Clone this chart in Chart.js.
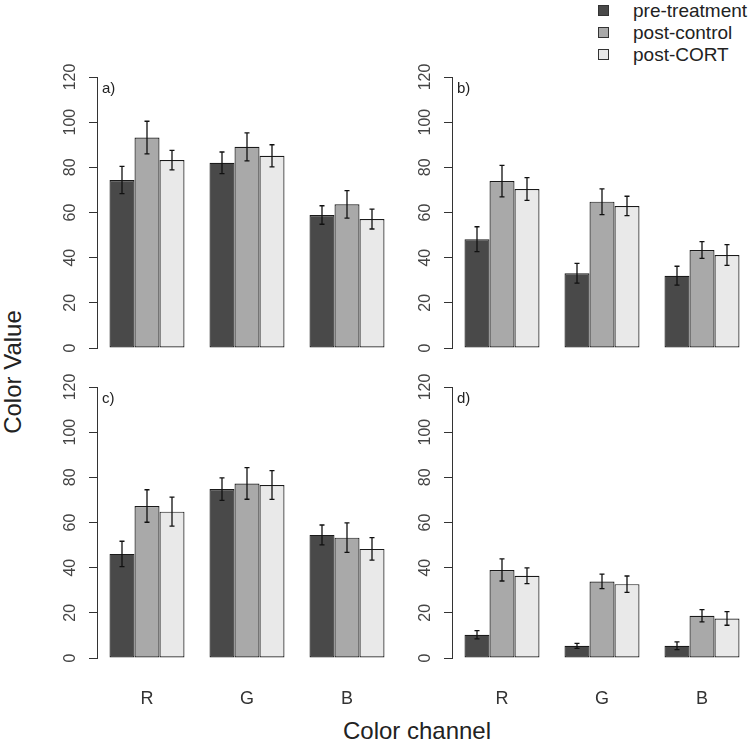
<!DOCTYPE html>
<html lang="en">
<head>
<meta charset="UTF-8">
<title>Color value by channel</title>
<script src="https://cdn.jsdelivr.net/npm/chart.js"></script>
<style>
  body {
    margin: 0;
    width: 749px;
    height: 743px;
    overflow: hidden;
    position: relative;
    background: #fff;
    font-family: "Liberation Sans", Arial, sans-serif;
    color: #222;
  }
  canvas { position: absolute; }
  .ylab {
    position: absolute; left: 13px; top: 372px;
    transform: translate(-50%, -50%) rotate(-90deg);
    font-size: 24px; white-space: nowrap;
  }
  .xlab {
    position: absolute; left: 417px; top: 731px;
    transform: translate(-50%, -50%);
    font-size: 24px; white-space: nowrap;
  }
  .legend { position: absolute; left: 598px; top: 0; font-size: 19px; }
  .legend div { position: relative; height: 22px; line-height: 22px; padding-left: 35px; white-space: nowrap; }
  .legend span { position: absolute; left: 0; top: 5px; width: 9px; height: 9px; border: 1px solid #333; }
</style>
</head>
<body>

<div class="legend">
  <div><span style="background:#494949"></span>pre-treatment</div>
  <div><span style="background:#a9a9a9"></span>post-control</div>
  <div><span style="background:#e9e9e9"></span>post-CORT</div>
</div>

<canvas id="pa" width="340" height="311" style="left:57px; top:57px"></canvas>
<canvas id="pb" width="340" height="311" style="left:412px; top:57px"></canvas>
<canvas id="pc" width="340" height="346" style="left:57px; top:367px"></canvas>
<canvas id="pd" width="340" height="346" style="left:412px; top:367px"></canvas>

<div class="ylab">Color Value</div>
<div class="xlab">Color channel</div>

<script>
// categories and series
const channels = ['R', 'G', 'B'];
const groups = ['pre-treatment', 'post-control', 'post-CORT'];
const groupColors = ['#494949', '#a9a9a9', '#e9e9e9'];
const yMax = 120;
const yStep = 20;

// panel a)
const aPre = [74.4, 82.0, 58.9];
const aPreErr = [6.0, 4.8, 4.1];
const aCtrl = [93.2, 89.1, 63.6];
const aCtrlErr = [7.2, 6.2, 6.1];
const aCort = [83.2, 85.1, 57.1];
const aCortErr = [4.3, 4.9, 4.4];

// panel b)
const bPre = [48.2, 33.1, 32.0];
const bPreErr = [5.5, 4.4, 4.2];
const bCtrl = [73.9, 64.8, 43.4];
const bCtrlErr = [7.0, 5.7, 3.7];
const bCort = [70.4, 62.9, 41.2];
const bCortErr = [5.0, 4.3, 4.6];

// panel c)
const cPre = [46.1, 74.8, 54.5];
const cPreErr = [5.6, 5.0, 4.4];
const cCtrl = [67.3, 77.3, 53.3];
const cCtrlErr = [7.2, 7.0, 6.5];
const cCort = [64.8, 76.6, 48.3];
const cCortErr = [6.4, 6.4, 5.0];

// panel d)
const dPre = [10.3, 5.4, 5.4];
const dPreErr = [1.8, 1.1, 1.7];
const dCtrl = [39.0, 33.9, 18.7];
const dCtrlErr = [4.9, 3.2, 2.7];
const dCort = [36.4, 32.7, 17.5];
const dCortErr = [3.5, 3.6, 3.0];

const FONT = '"Liberation Sans", Arial, sans-serif';

// draws +/- error whiskers on top of each bar
const errorBars = {
  id: 'errorBars',
  afterDatasetsDraw(chart) {
    const ctx = chart.ctx;
    const y = chart.scales.y;
    ctx.save();
    ctx.strokeStyle = '#111';
    ctx.lineWidth = 1.3;
    chart.data.datasets.forEach((ds, i) => {
      chart.getDatasetMeta(i).data.forEach((bar, j) => {
        const hi = y.getPixelForValue(ds.data[j] + ds.errors[j]);
        const lo = y.getPixelForValue(ds.data[j] - ds.errors[j]);
        ctx.beginPath();
        ctx.moveTo(bar.x, hi); ctx.lineTo(bar.x, lo);
        ctx.moveTo(bar.x - 2.5, hi); ctx.lineTo(bar.x + 2.5, hi);
        ctx.moveTo(bar.x - 2.5, lo); ctx.lineTo(bar.x + 2.5, lo);
        ctx.stroke();
      });
    });
    ctx.restore();
  }
};

// the little "a)" tag in the corner of each panel
const panelTag = {
  id: 'panelTag',
  afterDraw(chart, args, opts) {
    const ctx = chart.ctx;
    ctx.save();
    ctx.font = '15px ' + FONT;
    ctx.fillStyle = '#222';
    ctx.textBaseline = 'middle';
    ctx.fillText(opts.text, chart.chartArea.left + 5, chart.chartArea.top + 12);
    ctx.restore();
  }
};

function makePanel(id, tag, series, errs, showX) {
  const datasets = series.map((vals, k) => ({
    label: groups[k],
    data: vals,
    errors: errs[k],
    backgroundColor: groupColors[k],
    borderColor: '#1a1a1a',
    borderWidth: 1.2,
    borderSkipped: false,
    barPercentage: 1.0,
    categoryPercentage: 0.75
  }));

  new Chart(document.getElementById(id), {
    type: 'bar',
    data: { labels: channels, datasets: datasets },
    plugins: [errorBars, panelTag],
    options: {
      responsive: false,
      animation: false,
      layout: { padding: { top: 20, left: 0, right: 0, bottom: 0 } },
      plugins: {
        legend: { display: false },
        tooltip: { enabled: false },
        panelTag: { text: tag }
      },
      scales: {
        x: {
          grid: { display: false, drawTicks: false },
          border: { display: false },
          ticks: {
            display: showX,
            padding: 30,
            color: '#333',
            font: { family: FONT, size: 18 }
          },
          afterFit(scale) { scale.height = showX ? 55 : 20; }
        },
        y: {
          min: 0,
          max: yMax,
          border: { display: true, color: '#333', width: 1 },
          grid: { drawOnChartArea: false, drawTicks: true, tickLength: 8, color: '#333' },
          ticks: {
            stepSize: yStep,
            autoSkip: false,
            minRotation: 90,
            maxRotation: 90,
            crossAlign: 'center',
            padding: 5,
            color: '#444',
            font: { family: FONT, size: 16 }
          },
          afterFit(scale) { scale.width = 40; }
        }
      }
    }
  });
}

makePanel('pa', 'a)', [aPre, aCtrl, aCort], [aPreErr, aCtrlErr, aCortErr], false);
makePanel('pb', 'b)', [bPre, bCtrl, bCort], [bPreErr, bCtrlErr, bCortErr], false);
makePanel('pc', 'c)', [cPre, cCtrl, cCort], [cPreErr, cCtrlErr, cCortErr], true);
makePanel('pd', 'd)', [dPre, dCtrl, dCort], [dPreErr, dCtrlErr, dCortErr], true);
</script>
</body>
</html>
